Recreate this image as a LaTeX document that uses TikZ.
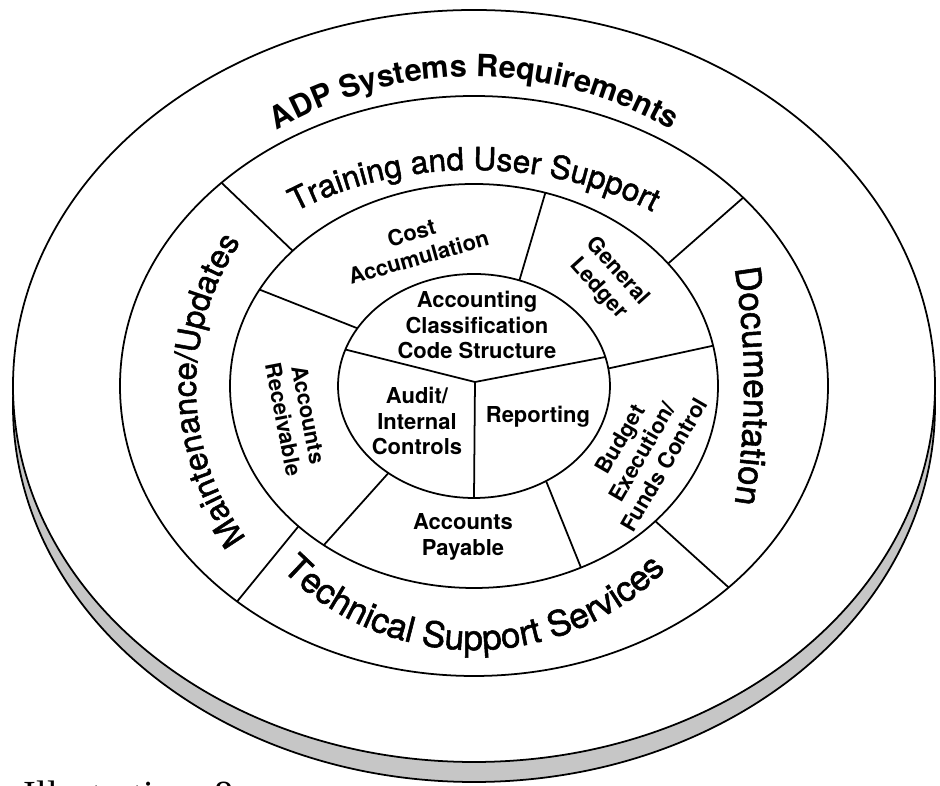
\documentclass[tikz,border=0pt]{standalone}
\usepackage{fontspec}
\setmainfont{TeX Gyre Heros}
\newfontfamily\ringfont[FakeBold=1.5]{TeX Gyre Heros}
\newfontfamily\captionfont{Liberation Serif}
\usetikzlibrary{decorations.text}

\begin{document}
\begin{tikzpicture}[x=0.02cm,y=0.02cm,line width=1pt,
  lbl/.style={font=\bfseries\fontsize{12.5}{14.5}\selectfont,align=center,inner sep=0pt},
  ringtext/.style={decorate,decoration={text along path,text align=center,text={#1}}}]
\newcommand{\outrx}{461}
\newcommand{\outry}{376}
\newcommand{\drop}{20}
\newcommand{\midrx}{354}
\newcommand{\midry}{290}
\newcommand{\secrx}{244}
\newcommand{\secry}{202}
\newcommand{\hubrx}{136}
\newcommand{\hubry}{112}
\useasboundingbox (-474,-400) rectangle (466,386);
\clip (-474,-400) rectangle (466,386);
\draw [fill=gray!45] (0,-\drop) ellipse [x radius=\outrx, y radius=\outry];
\draw [fill=white] (0,0) ellipse [x radius=\outrx, y radius=\outry];
\draw (0,0) ellipse [x radius=\midrx, y radius=\midry];
\draw (0,0) ellipse [x radius=\secrx, y radius=\secry];
\draw (0,0) ellipse [x radius=\hubrx, y radius=\hubry];
\coordinate (hub) at (1,4);
\foreach \a in {161,15,270}
  \draw (hub) -- (xyz polar cs:angle=\a,x radius=\hubrx,y radius=\hubry);
\foreach \a/\b in {149/151.5,70.5/73,9/11.5,-58/-64,231/232}
  \draw (xyz polar cs:angle=\a,x radius=\hubrx,y radius=\hubry)
     -- (xyz polar cs:angle=\b,x radius=\secrx,y radius=\secry);
\foreach \a/\b in {138/135.5,37.3/40.5,-42/-44,224/228}
  \draw (xyz polar cs:angle=\a,x radius=\secrx,y radius=\secry)
     -- (xyz polar cs:angle=\b,x radius=\midrx,y radius=\midry);
\path [ringtext={|\bfseries\fontsize{17.5}{20}\selectfont|ADP Systems\ Requirements}]
  (160:351 and 309) arc [start angle=160, end angle=20, x radius=351, y radius=309];
\path [ringtext={|\ringfont\fontsize{18}{22}\selectfont|Training and User Support}]
  (165:302 and 216) arc [start angle=165, end angle=15, x radius=302, y radius=216];
\path [ringtext={|\ringfont\fontsize{20}{22}\selectfont|Technical Support Services}]
  (200:267 and 264) arc [start angle=200, end angle=340, x radius=267, y radius=264];
\path [ringtext={|\ringfont\fontsize{18.5}{22}\selectfont|Maintenance/Updates}]
  (251:278 and 265) arc [start angle=251, end angle=111, x radius=278, y radius=265];
\path [ringtext={|\ringfont\fontsize{20}{24}\selectfont|Documentation}]
  (60:270 and 450) arc [start angle=60, end angle=-60, x radius=270, y radius=450];
\node [lbl] (acs) at (3,61) {Accounting\\Classification\\Code Structure};
\node [lbl] (audit) at (-57,-35) {Audit/\\Internal\\Controls};
\node [lbl] (rep) at (64,-31) {Reporting};
\node [lbl,rotate=16] (cost) at (-59,141) {Cost\\Accumulation};
\node [lbl,rotate=-48] (gl) at (134,106) {General\\Ledger};
\node [lbl,rotate=60] (budget) at (168,-66) {Budget\\Execution/\\Funds Control};
\node [lbl] (ap) at (-11,-151) {Accounts\\Payable};
\node [lbl,rotate=-79] (ar) at (-178,-31) {Accounts\\Receivable};
\node [font=\captionfont\fontsize{21.8}{24}\selectfont,anchor=base west,inner sep=0pt] (fig) at (-451,-422) {Illustration\hspace{13pt}8};
\end{tikzpicture}
\end{document}
